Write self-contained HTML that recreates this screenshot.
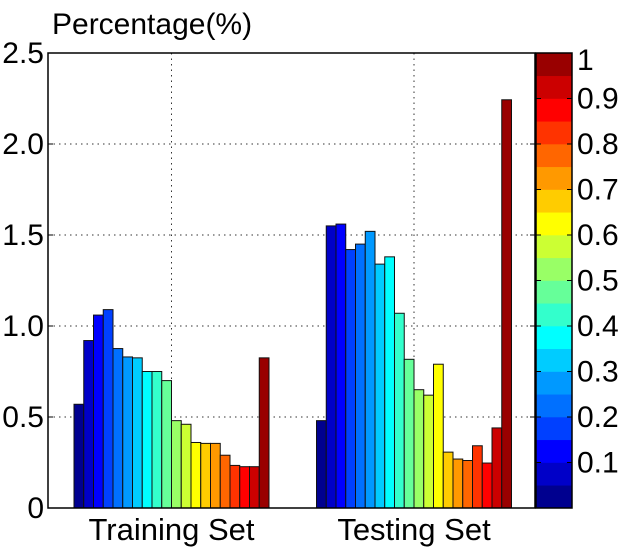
<!DOCTYPE html>
<html><head><meta charset="utf-8"><style>
html,body{margin:0;padding:0;background:#fff;}
svg text{font-family:"Liberation Sans",Arial,sans-serif;fill:#000;}
</style></head><body>
<svg id="chart" width="621" height="548" xmlns="http://www.w3.org/2000/svg"></svg>
<script>
const groups = ["Training Set", "Testing Set"];
const trainingValues = [0.57,0.92,1.06,1.09,0.876,0.83,0.825,0.75,0.75,0.70,0.48,0.46,0.36,0.355,0.355,0.29,0.234,0.227,0.227,0.825];
const testingValues = [0.48,1.55,1.56,1.42,1.45,1.52,1.34,1.38,1.07,0.817,0.65,0.62,0.79,0.307,0.269,0.261,0.342,0.247,0.44,2.243];
const yTicks = ["0","0.5","1.0","1.5","2.0","2.5"];
const yTickValues = [0,0.5,1.0,1.5,2.0,2.5];
const cbTicks = ["0.1","0.2","0.3","0.4","0.5","0.6","0.7","0.8","0.9","1"];
const cbTickValues = [0.1,0.2,0.3,0.4,0.5,0.6,0.7,0.8,0.9,1.0];
const colors = ["#00008F","#0000C8","#0000FF","#0040FF","#0070FF","#0099FF","#00CCFF","#00FFFF","#33FFCC","#66FF99","#99FF66","#CCFF33","#FFFF00","#FFCC00","#FF9900","#FF6600","#FF3300","#FF0000","#CC0000","#990000"];

const NS="http://www.w3.org/2000/svg";
const svg=document.getElementById('chart');
const L=48,R=535,T=53,B=508,yMax=2.5;
const groupCenters=[171.5,414];
const barW=9.75;
function y(v){return B-(v/yMax)*(B-T);}
function mk(tag,attrs,parent){const e=document.createElementNS(NS,tag);for(const k in attrs)e.setAttribute(k,attrs[k]);(parent||svg).appendChild(e);return e;}

yTickValues.forEach((v,i)=>{
  if(v>0&&v<yMax){const g=mk('line',{x1:L,x2:R,y1:y(v),y2:y(v),stroke:'#333','stroke-width':1,'stroke-dasharray':'1.5,4'});
  
  }
});
groupCenters.forEach(cx=>{const g=mk('line',{x1:cx,x2:cx,y1:T,y2:B,stroke:'#333','stroke-width':1,'stroke-dasharray':'1.5,4'});
  
  });

[trainingValues,testingValues].forEach((vals,gi)=>{
  const start=groupCenters[gi]-vals.length*barW/2;
  vals.forEach((v,i)=>{
    const r=mk('rect',{x:start+i*barW,y:y(v),width:barW,height:B-y(v),fill:colors[i],stroke:'#111','stroke-width':1});
    
    
  });
});

const box=mk('rect',{x:L,y:T,width:R-L,height:B-T,fill:'none',stroke:'#000','stroke-width':1.5});



yTickValues.forEach((v,i)=>{
  mk('line',{x1:L,x2:L+5,y1:y(v),y2:y(v),stroke:'#000'});
  mk('line',{x1:R,x2:R-5,y1:y(v),y2:y(v),stroke:'#000'});
  const t=mk('text',{x:44,y:y(v)+10,'text-anchor':'end','font-size':30});
  t.textContent=yTicks[i];
  
  
});
groups.forEach((g,i)=>{
  const t=mk('text',{x:groupCenters[i],y:540,'text-anchor':'middle','font-size':31});
  t.textContent=g;
  
  
});
const yt=mk('text',{x:52,y:34,'font-size':30});
yt.textContent='Percentage(%)';



const cL=536,cR=572;
function cy(v){return B-v*(B-T);}
colors.forEach((c,i)=>{
  const r=mk('rect',{x:cL,y:cy((i+1)/colors.length),width:cR-cL,height:(B-T)/colors.length+0.3,fill:c});
  
  
});
const cb=mk('rect',{x:cL,y:T,width:cR-cL,height:B-T,fill:'none',stroke:'#000','stroke-width':1.5});


cbTickValues.forEach((v,i)=>{
  mk('line',{x1:cR,x2:cR-5,y1:cy(v),y2:cy(v),stroke:'#000'});
  mk('line',{x1:cL,x2:cL+5,y1:cy(v),y2:cy(v),stroke:'#000'});
  const t=mk('text',{x:577,y:cy(v)+10+(v===1?7:0),'font-size':30});
  t.textContent=cbTicks[i];
  
  
});
</script>
</body></html>
